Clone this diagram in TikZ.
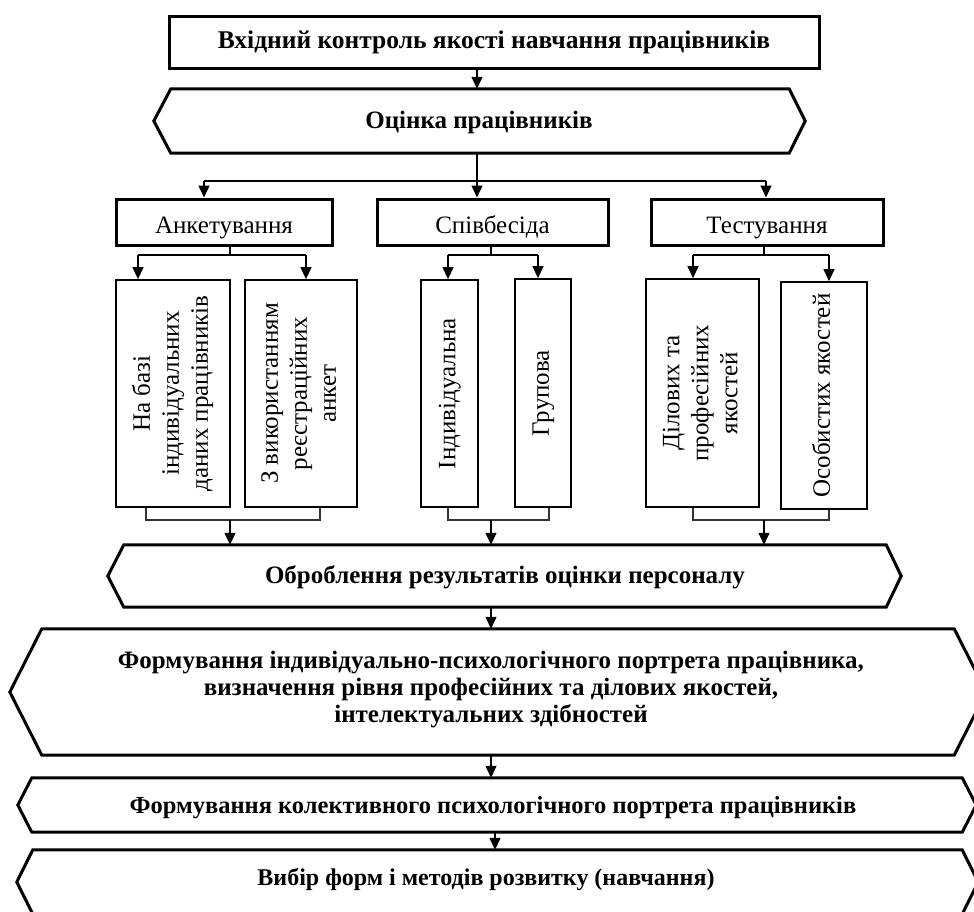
\documentclass[tikz,border=0pt]{standalone}
\usepackage{fontspec}
\usepackage{graphicx}
\setmainfont{Liberation Serif}
\usetikzlibrary{arrows.meta}
\newcommand{\bfs}{\fontsize{25}{27}\selectfont\bfseries}
\newcommand{\rgs}{\fontsize{25}{29}\selectfont}
\newcommand{\vtext}[1]{\rotatebox{90}{\rgs\begin{tabular}{@{}c@{}}#1\end{tabular}}}
\tikzset{
  thickbox/.style={draw, line width=3pt, inner sep=0pt},
  midbox/.style={thickbox, minimum height=46pt, font=\rgs, text height=23pt, text depth=1pt},
  tallbox/.style={draw, line width=1.8pt, inner sep=0pt},
  hexarea/.style={draw=none, inner sep=0pt},
  hexline/.style={line width=3pt, line join=miter},
  conn/.style={line width=1.3pt},
  arr/.style={line width=1.3pt, -{Triangle[length=12pt,width=11pt]}},
  brk/.style={line width=1.1pt, black!80},
  bold/.style={font=\bfs, inner sep=0pt},
}
\begin{document}
\begin{tikzpicture}[x=1pt,y=-1pt]
\useasboundingbox (0,0) rectangle (974,911);
\clip (0,0) rectangle (974,911);
\fill[white] (0,0) rectangle (974,911);

% top box
\node[thickbox, minimum width=650pt, minimum height=52pt, font={\fontsize{25.5}{27}\selectfont\bfseries}] (top) at (494,42) {Вхідний контроль якості навчання працівників};

% hexagon 1
\node[hexarea, minimum width=618pt, minimum height=64pt] (h1) at (480,121) {};
\draw[hexline] (h1.north west) -- (h1.north east) -- ([xshift=16pt]h1.east) -- (h1.south east) -- (h1.south west) -- ([xshift=-17pt]h1.west) -- cycle;
\node[bold] (h1t) at (479,122) {Оцінка працівників};

% level 2 boxes
\node[midbox, minimum width=216pt] (a) at (224,222) {Анкетування};
\node[midbox, minimum width=231pt] (b) at (492.5,222) {Співбесіда};
\node[midbox, minimum width=232pt] (c) at (767,222) {Тестування};

% level 3 boxes
\node[tallbox, minimum width=114pt, minimum height=227pt] (a1) at (173,393.5) {\vtext{На базі\\індивідуальних\\даних працівників}};
\node[tallbox, minimum width=112pt, minimum height=227pt] (a2) at (301,393.5) {\vtext{З використанням\\реєстраційних\\анкет}};
\node[tallbox, minimum width=57pt, minimum height=227pt] (b1) at (449.5,393.5) {\vtext{Індивідуальна}};
\node[tallbox, minimum width=56pt, minimum height=228pt] (b2) at (543,393) {\vtext{Групова}};
\node[tallbox, minimum width=113pt, minimum height=228pt] (c1) at (702.5,393) {\vtext{Ділових та\\професійних\\якостей}};
\node[tallbox, minimum width=86pt, minimum height=227pt] (c2) at (824,395.5) {\vtext{Особистих якостей}};

% hexagon 2
\node[hexarea, minimum width=762pt, minimum height=62pt] (h2) at (505,576) {};
\draw[hexline] (h2.north west) -- (h2.north east) -- ([xshift=15pt]h2.east) -- (h2.south east) -- (h2.south west) -- ([xshift=-16pt]h2.west) -- cycle;
\node[bold] (h2t) at (505,577) {Оброблення результатів оцінки персоналу};

% hexagon 3
\node[hexarea, minimum width=912pt, minimum height=126pt] (h3) at (498,692) {};
\draw[hexline] (h3.north west) -- (h3.north east) -- ([xshift=32pt]h3.east) -- (h3.south east) -- (h3.south west) -- ([xshift=-32pt]h3.west) -- cycle;
\node[bold, align=center] (h3t) at (491,690) {Формування індивідуально-психологічного портрета працівника,\\визначення рівня професійних та ділових якостей,\\інтелектуальних здібностей};

% hexagon 4
\node[hexarea, minimum width=930pt, minimum height=54pt] (h4) at (497,805) {};
\draw[hexline] (h4.north west) -- (h4.north east) -- ([xshift=14pt]h4.east) -- (h4.south east) -- (h4.south west) -- ([xshift=-14pt]h4.west) -- cycle;
\node[bold, font={\fontsize{24.5}{27}\selectfont\bfseries}] (h4t) at (493,808) {Формування колективного психологічного портрета працівників};

% hexagon 5
\node[hexarea, minimum width=929pt, minimum height=64pt] (h5) at (497.5,882) {};
\draw[hexline] (h5.north west) -- (h5.north east) -- ([xshift=16pt]h5.east) -- (h5.south east) -- (h5.south west) -- ([xshift=-16pt]h5.west) -- cycle;
\node[bold, font={\fontsize{24}{27}\selectfont\bfseries}] (h5t) at (486,879) {Вибір форм і методів розвитку (навчання)};

% connectors top
\coordinate (m1) at (477,0);
\draw[arr] (m1 |- top.south) -- (m1 |- h1.north);
\coordinate (bus1) at (477,181);
\draw[conn] (m1 |- h1.south) -- (bus1);
\coordinate (busA) at (204,181);
\coordinate (busC) at (766,181);
\draw[conn] (busA) -- (busC);
\draw[arr] (busA) -- (busA |- a.north);
\draw[arr] (bus1) -- (bus1 |- b.north);
\draw[arr] (busC) -- (busC |- c.north);

% level 2 -> level 3
\coordinate (sa) at (230,255);
\coordinate (sb) at (491,255);
\coordinate (sc) at (764,255);
\draw[conn] (sa |- a.south) -- (sa);
\draw[conn] (sb |- b.south) -- (sb);
\draw[conn] (sc |- c.south) -- (sc);
\coordinate (a1x) at (138,255); \coordinate (a2x) at (306,255);
\coordinate (b1x) at (448,255); \coordinate (b2x) at (538,255);
\coordinate (c1x) at (693,255); \coordinate (c2x) at (829,255);
\draw[conn] (a1x) -- (a2x);
\draw[conn] (b1x) -- (b2x);
\draw[conn] (c1x) -- (c2x);
\draw[arr] (a1x) -- (a1x |- a1.north);
\draw[arr] (a2x) -- (a2x |- a2.north);
\draw[arr] (b1x) -- (b1x |- b1.north);
\draw[arr] (b2x) -- (b2x |- b2.north);
\draw[arr] (c1x) -- (c1x |- c1.north);
\draw[arr] (c2x) -- (c2x |- c2.north);

% brackets under level 3
\coordinate (ka) at (230,520); \coordinate (kb) at (491,520); \coordinate (kc) at (764,520);
\coordinate (ka1) at (146,520); \coordinate (ka2) at (320,520);
\coordinate (kb1) at (448,520); \coordinate (kb2) at (549,520);
\coordinate (kc1) at (693,520); \coordinate (kc2) at (829,520);
\draw[brk] (ka1 |- a1.south) -- (ka1) -- (ka2) -- (ka2 |- a2.south);
\draw[brk] (kb1 |- b1.south) -- (kb1) -- (kb2) -- (kb2 |- b2.south);
\draw[brk] (kc1 |- c1.south) -- (kc1) -- (kc2) -- (kc2 |- c2.south);
\draw[arr] (ka) -- (ka |- h2.north);
\draw[arr] (kb) -- (kb |- h2.north);
\draw[arr] (kc) -- (kc |- h2.north);

% lower chain
\coordinate (d1) at (491,0);
\draw[arr] (d1 |- h2.south) -- (d1 |- h3.north);
\draw[arr] (d1 |- h3.south) -- (d1 |- h4.north);
\coordinate (d2) at (495,0);
\draw[arr] (d2 |- h4.south) -- (d2 |- h5.north);
\end{tikzpicture}
\end{document}
